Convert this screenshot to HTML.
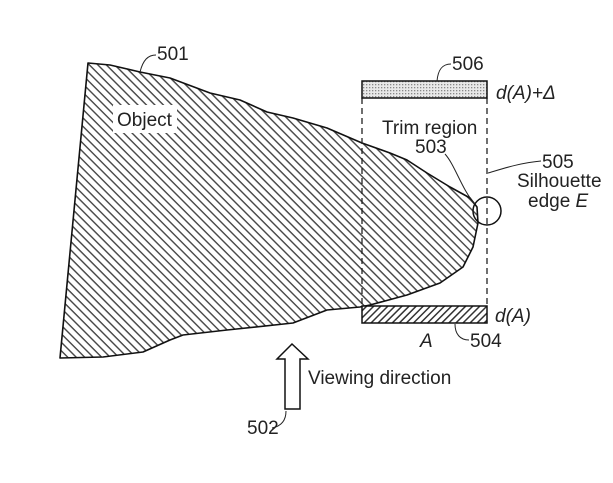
<!DOCTYPE html>
<html><head><meta charset="utf-8"><style>
html,body{margin:0;padding:0;background:#fff;}
svg{display:block;}
text{font-family:"Liberation Sans",sans-serif;font-size:19px;fill:#222;}
</style></head><body>
<svg width="613" height="483" viewBox="0 0 613 483" xmlns="http://www.w3.org/2000/svg">
<defs>
<pattern id="h1" patternUnits="userSpaceOnUse" width="6" height="6" patternTransform="rotate(45)">
<rect width="6" height="6" fill="#fff"/><rect x="0" y="0" width="6" height="1.4" fill="#444"/>
</pattern>
<pattern id="h2" patternUnits="userSpaceOnUse" width="5" height="5" patternTransform="rotate(-45)">
<rect width="5" height="5" fill="#fff"/><rect x="0" y="0" width="5" height="1.5" fill="#333"/>
</pattern>
<pattern id="dots" patternUnits="userSpaceOnUse" width="3" height="3">
<rect width="3" height="3" fill="#e8e8e8"/><rect x="0" y="0" width="1.3" height="1.3" fill="#888"/>
</pattern>
</defs>
<path d="M88,63 L110,65 L140,72 L170,78 L210,93 L240,100 L267,112 L293,118 L327,128 L362,143 L390,153 L407,160 L427,173 L450,187 L470,198 L477,207 L478,223 L473,247 L463,267 L440,283 L407,295 L370,305 L360,307 L327,310 L293,323 L227,330 L183,335 L170,340 L143,352 L103,357 L60,358 Z" fill="url(#h1)" stroke="#111" stroke-width="1.6" stroke-linejoin="round"/>
<rect x="113" y="105" width="64" height="28" fill="#fff"/>
<text x="117" y="126">Object</text>
<line x1="362" y1="98" x2="362" y2="306" stroke="#222" stroke-width="1.3" stroke-dasharray="6,4"/>
<line x1="487" y1="98" x2="487" y2="306" stroke="#222" stroke-width="1.3" stroke-dasharray="6,4"/>
<rect x="362" y="81" width="125" height="17" fill="url(#dots)" stroke="#111" stroke-width="1.5"/>
<rect x="362" y="306" width="125" height="17" fill="url(#h2)" stroke="#111" stroke-width="1.5"/>
<circle cx="487" cy="211" r="14" fill="none" stroke="#111" stroke-width="1.5"/>
<path d="M292,344 L308,359 L300,359 L300,409 L285,409 L285,359 L277,359 Z" fill="#fff" stroke="#111" stroke-width="1.5"/>
<text x="308" y="384" font-size="20">Viewing direction</text>
<text x="247" y="434" font-size="17">502</text>
<path d="M272,428 C282,426 286,420 286,411" fill="none" stroke="#222" stroke-width="1"/>
<text x="157" y="60" font-size="17">501</text>
<path d="M140,72 C143,60 148,55 156,55" fill="none" stroke="#222" stroke-width="1"/>
<text x="452" y="70" font-size="17">506</text>
<path d="M437,81 C438,70 442,64 451,64" fill="none" stroke="#222" stroke-width="1"/>
<text x="496" y="99" font-style="italic">d(A)+Δ</text>
<text x="382" y="134">Trim region</text>
<text x="415" y="153">503</text>
<path d="M445,154 C455,165 462,190 475,204" fill="none" stroke="#222" stroke-width="1"/>
<text x="542" y="168" font-size="18">505</text>
<path d="M488,173 C505,168 520,163 541,161" fill="none" stroke="#222" stroke-width="1"/>
<text x="517" y="187">Silhouette</text>
<text x="528" y="207">edge <tspan font-style="italic">E</tspan></text>
<text x="495" y="322" font-style="italic">d(A)</text>
<text x="420" y="347" font-style="italic">A</text>
<text x="470" y="347" font-size="18">504</text>
<path d="M455,324 C455,334 460,340 469,340" fill="none" stroke="#222" stroke-width="1"/>
</svg>
</body></html>
